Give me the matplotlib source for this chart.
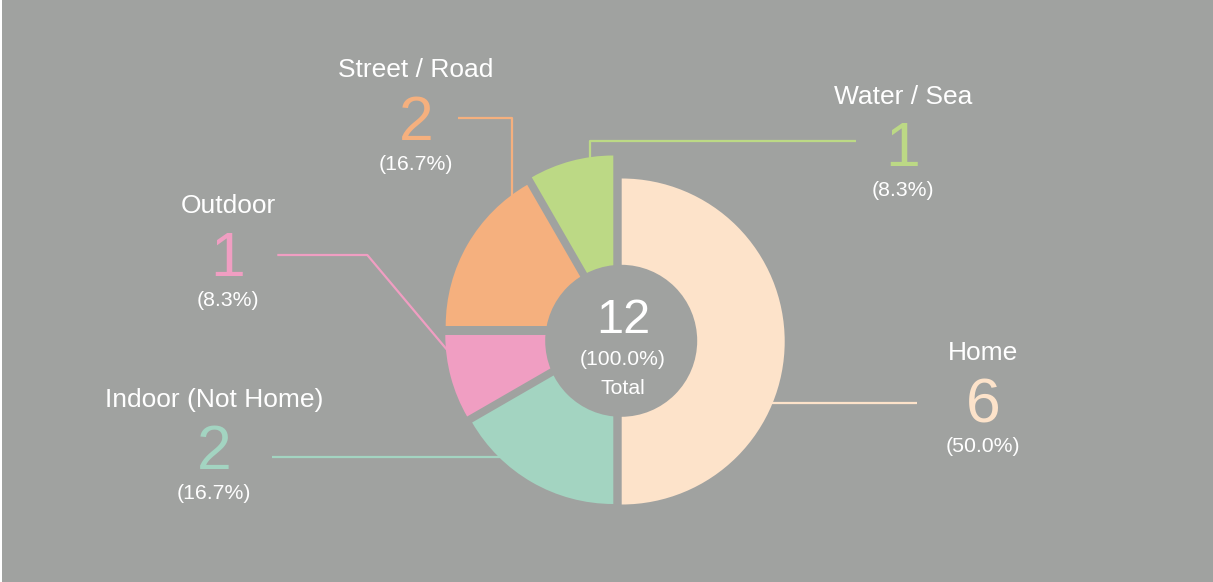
import matplotlib
matplotlib.use('Agg')
import matplotlib.pyplot as plt
from matplotlib.patches import Circle, Rectangle

plt.rcParams['font.family'] = ['Liberation Sans', 'DejaVu Sans']

# data
labels = ['Home', 'Indoor (Not Home)', 'Outdoor', 'Street / Road', 'Water / Sea']
counts = [6, 2, 1, 2, 1]

# style
colors = ['#fde3ca', '#a3d4c1', '#f09ec2', '#f5b07e', '#bcd985']
BG = '#a0a2a0'
W, H = 1213, 582
pie_center = (621.2, 340.8)
radius = 163
hole = 76
# per-slice nudge of each wedge (pixels), gives the gaps
nudge = [(0.5, 0.7), (-7.9, 0.2), (-12.9, -5.8), (-12.5, -14.8), (-7.9, -22.3)]
# label block: centre x, baseline of name
label_pos = [(983, 360), (214, 406.7), (228, 213.3), (416, 77.3), (903, 104)]
# leader polylines (pixels)
leaders = [
    [(916.7, 402.7), (750, 402.7)],
    [(271.7, 457.3), (520, 457.3)],
    [(277.3, 255), (367.3, 255), (460, 365.2)],
    [(458.3, 117.7), (511.7, 117.7), (511.7, 215)],
    [(856, 140.7), (590, 140.7), (590, 175)],
]

fig = plt.figure(figsize=(W / 100, H / 100), dpi=100)
fig.patch.set_facecolor(BG)
ax = fig.add_axes([0, 0, 1, 1])

wedges, _ = ax.pie(counts, colors=colors, radius=radius, center=pie_center,
                   startangle=-90, counterclock=True,
                   wedgeprops=dict(linewidth=0, zorder=2))
for w, (dx, dy) in zip(wedges, nudge):
    w.set_center((pie_center[0] + dx, pie_center[1] + dy))

ax.add_patch(Circle(pie_center, hole, facecolor=BG, edgecolor='none', zorder=3))

for pts, c in zip(leaders, colors):
    xs = [p[0] for p in pts]
    ys = [p[1] for p in pts]
    ax.plot(xs, ys, color=c, lw=1.6, zorder=1, solid_capstyle='butt')

total = sum(counts)
for name, n, c, (lx, ly) in zip(labels, counts, colors, label_pos):
    pct = 100.0 * n / total
    ax.text(lx, ly, name, color='white', fontsize=19, ha='center', va='baseline', zorder=4)
    ax.text(lx, ly + 62.5, str(n), color=c, fontsize=45,
            ha='center', va='baseline', zorder=4)
    ax.text(lx, ly + 92.5, '({:.1f}%)'.format(pct), color='white', fontsize=15.3,
            ha='center', va='baseline', zorder=4)

ax.text(623, 333.3, str(total), color='white', fontsize=35, ha='center', va='baseline', zorder=4)
ax.text(623, 365, '(100.0%)', color='white', fontsize=15.2, ha='center', va='baseline', zorder=4)
ax.text(623, 394, 'Total', color='white', fontsize=15.2, ha='center', va='baseline', zorder=4)

ax.add_patch(Rectangle((0, 0), 2, H, facecolor='white', edgecolor='none', zorder=5))

ax.set_xlim(0, W)
ax.set_ylim(H, 0)
ax.set_aspect('auto')
ax.set_facecolor(BG)
ax.axis('off')

plt.savefig('out.png', dpi=100, facecolor=BG)
plt.close()
